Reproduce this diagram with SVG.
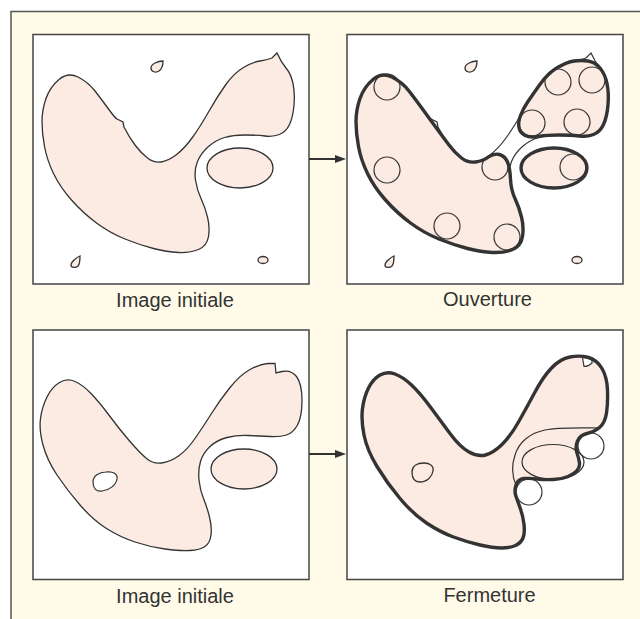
<svg xmlns="http://www.w3.org/2000/svg" xmlns:xlink="http://www.w3.org/1999/xlink" width="640" height="619" viewBox="0 0 640 619">
<style>
.bg{fill:#FFFBE8;stroke:none}
.frame{fill:none;stroke:#555;stroke-width:1.5}
.panel{fill:#fff;stroke:#444;stroke-width:1.5}
.thin{fill:#FCEBE2;stroke:#333;stroke-width:1.3}
.thinw{fill:#fff;stroke:#333;stroke-width:1.2}
.thinn{fill:none;stroke:#333;stroke-width:1.2}
.thick{fill:none;stroke:#333;stroke-width:3.4;stroke-linejoin:round}
.pk{fill:#FCEBE2;stroke:none}
.lbl{font-family:"Liberation Sans",Arial,sans-serif;font-size:20px;fill:#333;text-anchor:middle}
.arrow{stroke:#333;stroke-width:2;fill:none}
</style>
<defs>
<marker id="ah" markerWidth="11" markerHeight="8" refX="1" refY="4" orient="auto" markerUnits="userSpaceOnUse"><path d="M0,0 L11,4 L0,8 Z" fill="#333"/></marker>
<path id="blob1" d="M78,77 Q88,82 95,91 Q102,100 108.5,109 Q115,118 117,119 L123,122 L124,127 Q129,137 135,145 Q141,153 147.5,158 Q154,163 161,162 Q168,161 176,155 Q184,149 192,138 Q200,127 208.5,112 Q217,97 225.5,85 Q234,73 243.5,67.5 Q253,62 260,61 Q267,60 272,58 L277,53 Q281,62 286,68 Q291,74 293,83.5 Q295,93 294,105 Q293,117 289.5,124.5 Q286,132 279.5,134.5 Q273,137 265,136 Q257,135 245,135 Q233,135 224.5,137.5 Q216,140 208.5,146.5 Q201,153 197.5,161.5 Q194,170 195.5,180 Q197,190 201,198.5 Q205,207 207.5,217 Q210,227 208.5,236.5 Q207,246 198.5,249.5 Q190,253 178.5,252.5 Q167,252 153.5,248.5 Q140,245 125,239 Q110,233 96.5,223 Q83,213 71.5,200 Q60,187 53.5,173.5 Q47,160 44.5,146.5 Q42,133 42,121.5 Q42,110 46,98.5 Q50,87 59,79.5 Q68,72 78,77 Z"/>
<path id="drop1" d="M163,61 C158,61 151,64 151,68 C151,72 156,73 159,71 C162,69 163,65 163,61 Z"/>
<path id="drop2" d="M80,256 C77,257 71,262 71,265 C71,268 76,268 78,266 C80,264 80,259 80,256 Z"/>
<path id="shapeR" d="M395,374 Q403,377 411.5,385 Q420,393 430,406.5 Q440,420 450,433.5 Q460,447 469,452 Q478,457 485.5,455 Q493,453 501.5,445 Q510,437 518.5,422 Q527,407 535,392 Q543,377 551.5,368 Q560,359 570,357 Q580,355 588.5,357.5 Q597,360 602,368.5 Q607,377 607.5,390 Q608,403 606.5,413 Q605,423 599.5,427.5 Q594,432 587,433.5 Q580,435 577.5,441 Q575,447 577,453 Q579,459 579.5,463 Q580,467 577,470.5 Q574,474 568,476.5 Q562,479 553.5,479.5 Q545,480 537.5,479 Q530,478 524,478.5 Q518,479 516,485 Q514,491 516,496.5 Q518,502 520.5,509 Q523,516 524,524.5 Q525,533 523,538 Q521,543 515.5,545.5 Q510,548 501.5,548 Q493,548 480,545 Q467,542 453.5,537 Q440,532 426.5,523 Q413,514 400,498.5 Q387,483 377,466.5 Q367,450 364,435 Q361,420 362.5,408.5 Q364,397 368.5,388 Q373,379 380,375 Q387,371 395,374 Z"/>
</defs>

<rect class="bg" x="11" y="11.5" width="629" height="607.5"/>
<path class="frame" d="M11,619 L11,11.5 L640,11.5"/>

<g id="panel-initial-top">
<rect class="panel" x="33" y="34.5" width="276" height="249.5"/>
<use xlink:href="#blob1" class="thin"/>
<ellipse class="thin" cx="240" cy="168" rx="33" ry="20"/>
<use xlink:href="#drop1" class="thin"/>
<use xlink:href="#drop2" class="thin"/>
<ellipse class="thin" cx="263" cy="260" rx="5" ry="3.5"/>
<text class="lbl" x="175" y="306.5">Image initiale</text>
</g>

<g id="panel-ouverture">
<rect class="panel" x="347" y="34.5" width="276" height="249.5"/>
<g transform="translate(314,0)">
<use xlink:href="#blob1" class="thinw"/>
<use xlink:href="#drop1" class="thin"/>
<use xlink:href="#drop2" class="thin"/>
<ellipse class="thin" cx="263" cy="260" rx="5" ry="3.5"/>
</g>
<path class="pk" d="M392,77 Q402,82 409,91 Q416,100 422.5,109 Q429,118 436,127.5 Q443,137 449,145 Q455,153 461.5,158 Q468,163 475.5,162 Q483,161 488.5,157 Q494,153 499.5,154.5 Q505,156 507.5,162 Q510,168 510.5,179 Q511,190 515,198.5 Q519,207 521.5,217 Q524,227 522.5,236.5 Q521,246 512.5,249.5 Q504,253 492.5,252.5 Q481,252 467.5,248.5 Q454,245 439,239 Q424,233 410.5,223 Q397,213 385.5,200 Q374,187 367.5,173.5 Q361,160 358.5,146.5 Q356,133 356,121.5 Q356,110 360,98.5 Q364,87 373,79.5 Q382,72 392,77 Z"/>
<path class="pk" d="M520.5,115.5 Q523,109 527,103 Q531,97 539.5,85 Q548,73 557.5,67.5 Q567,62 574,61 Q581,60 588,61 Q595,62 600,68 Q605,74 607,83.5 Q609,93 608,105 Q607,117 603.5,124.5 Q600,132 593.5,134.5 Q587,137 579,136 Q571,135 559,135 Q547,135 538.5,136.5 Q530,138 525,135.5 Q520,133 519,127.5 Q518,122 520.5,115.5 Z"/>
<ellipse class="pk" cx="554" cy="168" rx="33" ry="20"/>
<g class="thinn">
<circle cx="387" cy="87" r="13"/>
<circle cx="387" cy="170" r="13"/>
<circle cx="447" cy="226" r="13"/>
<circle cx="507" cy="237" r="13"/>
<circle cx="495" cy="167" r="13"/>
<circle cx="558" cy="82" r="13"/>
<circle cx="592" cy="80" r="13"/>
<circle cx="532" cy="123" r="13"/>
<circle cx="577" cy="122" r="13"/>
<circle cx="573" cy="167" r="13"/>
</g>
<path class="thick" d="M392,77 Q402,82 409,91 Q416,100 422.5,109 Q429,118 436,127.5 Q443,137 449,145 Q455,153 461.5,158 Q468,163 475.5,162 Q483,161 488.5,157 Q494,153 499.5,154.5 Q505,156 507.5,162 Q510,168 510.5,179 Q511,190 515,198.5 Q519,207 521.5,217 Q524,227 522.5,236.5 Q521,246 512.5,249.5 Q504,253 492.5,252.5 Q481,252 467.5,248.5 Q454,245 439,239 Q424,233 410.5,223 Q397,213 385.5,200 Q374,187 367.5,173.5 Q361,160 358.5,146.5 Q356,133 356,121.5 Q356,110 360,98.5 Q364,87 373,79.5 Q382,72 392,77 Z"/>
<path class="thick" d="M520.5,115.5 Q523,109 527,103 Q531,97 539.5,85 Q548,73 557.5,67.5 Q567,62 574,61 Q581,60 588,61 Q595,62 600,68 Q605,74 607,83.5 Q609,93 608,105 Q607,117 603.5,124.5 Q600,132 593.5,134.5 Q587,137 579,136 Q571,135 559,135 Q547,135 538.5,136.5 Q530,138 525,135.5 Q520,133 519,127.5 Q518,122 520.5,115.5 Z"/>
<ellipse class="thick" cx="554" cy="168" rx="33" ry="20"/>
<text class="lbl" x="487.5" y="306">Ouverture</text>
</g>

<g id="panel-initial-bottom">
<rect class="panel" x="33" y="330" width="276" height="249.5"/>
<path class="thin" d="M75,381.5 Q83,385 91.5,394 Q100,403 110,416.5 Q120,430 130,441.5 Q140,453 146.5,458.5 Q153,464 161.5,463 Q170,462 178.5,456 Q187,450 195,438.5 Q203,427 211.5,413.5 Q220,400 230,387.5 Q240,375 250,369.5 Q260,364 268,363.5 L275,363.5 L276,373 L282,371.5 Q291,369.5 296.5,376.5 Q302,384 302,400 Q302,417 297.5,425 Q293,433 286.5,435 Q280,437 270,436.5 Q260,436 248.5,435.5 Q237,435 227,437.5 Q217,440 210,446.5 Q203,453 200.5,461.5 Q198,470 199,480 Q200,490 203.5,498.5 Q207,507 209.5,517 Q212,527 211,535 Q210,543 205,546.5 Q200,550 190,550.5 Q180,551 165,549 Q150,547 135,542 Q120,537 106.5,528.5 Q93,520 80,505 Q67,490 57,475 Q47,460 43,445 Q39,430 40.5,418.5 Q42,407 47,397 Q52,387 59.5,382.5 Q67,378 75,381.5 Z"/>
<path class="thinw" d="M93,482 C93,476 99,472 106,472 C113,471 118,474 117,479 C116,485 110,490 102,491 C96,492 93,488 93,482 Z"/>
<ellipse class="thin" cx="244" cy="469" rx="33" ry="20"/>
<text class="lbl" x="175" y="603">Image initiale</text>
</g>

<g id="panel-fermeture">
<rect class="panel" x="347" y="330" width="276" height="249.5"/>
<use xlink:href="#shapeR" class="pk"/>
<path class="thinn" d="M599,428 C585,428 560,427 545,430 C530,433 519,442 515,455 C511,467 512,476 516,485"/>
<ellipse class="thinn" cx="553" cy="462" rx="31" ry="17.5"/>
<path class="thin" d="M412,472 C412,466 417,463 424,463 C430,463 434,466 433,471 C432,477 427,482 420,482 C414,482 412,478 412,472 Z"/>
<path class="thinw" d="M582.5,357.5 L584,366.5 Q588.5,366.5 592,363 L592,358 Z"/>
<circle class="thinw" cx="591" cy="446" r="13"/>
<circle class="thinw" cx="529" cy="492" r="13"/>
<use xlink:href="#shapeR" class="thick"/>
<text class="lbl" x="489.5" y="602">Fermeture</text>
</g>

<g id="connectors">
<line class="arrow" x1="309" y1="159" x2="336" y2="159" marker-end="url(#ah)"/>
<line class="arrow" x1="309" y1="454" x2="336" y2="454" marker-end="url(#ah)"/>
</g>
</svg>
